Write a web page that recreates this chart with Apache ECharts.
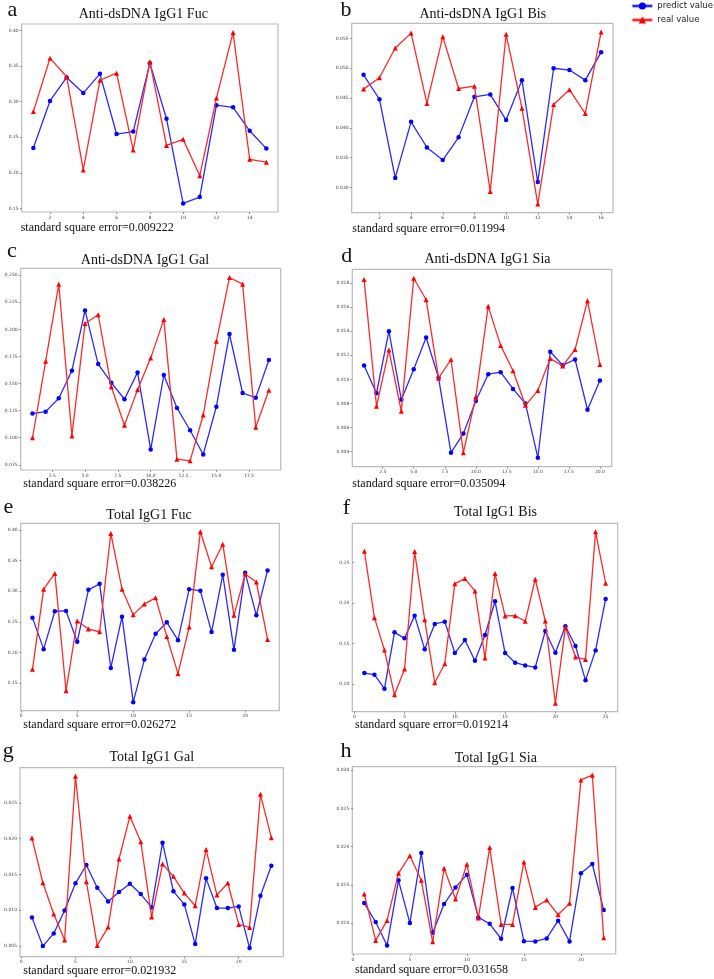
<!DOCTYPE html>
<html><head><meta charset="utf-8">
<script src="https://cdn.jsdelivr.net/npm/echarts@6/dist/echarts.min.js"></script>
<style>html,body{margin:0;padding:0;background:#fff}#c{width:714px;height:979px}</style>
</head><body><div id="c"></div>
<script>
// ---------- DATA ----------
const titles = ['Anti-dsDNA IgG1 Fuc','Anti-dsDNA IgG1 Bis','Anti-dsDNA IgG1 Gal','Anti-dsDNA IgG1 Sia',
                'Total IgG1 Fuc','Total IgG1 Bis','Total IgG1 Gal','Total IgG1 Sia'];
const letters = ['a','b','c','d','e','f','g','h'];
const errors = ['standard square error=0.009222','standard square error=0.011994','standard square error=0.038226',
                'standard square error=0.035094','standard square error=0.026272','standard square error=0.019214',
                'standard square error=0.021932','standard square error=0.031658'];
const seriesNames = ['predict value','real value'];

const predA = [0.235,0.301,0.334,0.312,0.339,0.2545,0.258,0.354,0.276,0.157,0.166,0.295,0.292,0.259,0.234];
const realA = [0.286,0.361,0.335,0.204,0.330,0.340,0.232,0.356,0.2385,0.247,0.196,0.305,0.397,0.219,0.215];

const predB = [0.0489,0.0448,0.0316,0.0410,0.0367,0.0346,0.0384,0.0452,0.0456,0.0413,0.0480,0.0309,0.0500,0.0497,0.0480,0.0527];
const realB = [0.0465,0.0484,0.0534,0.0559,0.0441,0.0553,0.0466,0.0470,0.0293,0.0557,0.0433,0.0272,0.0439,0.0464,0.0424,0.0561];

const predC = [0.1223,0.1241,0.1364,0.1619,0.2175,0.1680,0.1508,0.1355,0.1603,0.0891,0.1579,0.1275,0.1069,0.0845,0.1287,0.1957,0.1413,0.1370,0.1717];
const realC = [0.1000,0.1705,0.2417,0.1017,0.2055,0.2135,0.1471,0.1115,0.1444,0.1735,0.2092,0.0802,0.0787,0.1210,0.1890,0.2479,0.2417,0.1097,0.1438];

const predD = [0.01115,0.00885,0.01400,0.00832,0.01085,0.01348,0.01013,0.00392,0.00550,0.00821,0.01043,0.01060,0.00921,0.00799,0.00350,0.01229,0.01118,0.01165,0.00749,0.00990];
const realD = [0.01828,0.00777,0.01243,0.00735,0.01839,0.01661,0.01010,0.01165,0.00392,0.00855,0.01606,0.01282,0.01071,0.00785,0.00907,0.01173,0.01112,0.01248,0.01653,0.01124];

const predE = [0.2567,0.2053,0.2671,0.2676,0.2173,0.3021,0.3119,0.1746,0.2583,0.1188,0.1883,0.2304,0.2490,0.2200,0.3032,0.3004,0.2332,0.3267,0.2042,0.3300,0.2605,0.3338];
const realE = [0.1724,0.3032,0.3289,0.1374,0.2512,0.2381,0.2337,0.3940,0.3032,0.2616,0.2791,0.2890,0.2260,0.1653,0.2414,0.3967,0.3398,0.3765,0.2605,0.3278,0.3147,0.2211];

const predF = [0.1136,0.1116,0.0943,0.1639,0.1565,0.1845,0.1429,0.1742,0.1771,0.1383,0.1544,0.1289,0.1606,0.2022,0.1383,0.1264,0.1231,0.1206,0.1655,0.1388,0.1713,0.1470,0.1046,0.1416,0.2051];
const realF = [0.2640,0.1820,0.1420,0.0868,0.1186,0.2636,0.1795,0.1017,0.1252,0.2240,0.2302,0.2150,0.1322,0.2364,0.1841,0.1845,0.1775,0.2294,0.1779,0.0765,0.1701,0.1334,0.1305,0.2879,0.2245];

const predG = [0.00897,0.00495,0.00673,0.00995,0.01374,0.01631,0.01313,0.01121,0.01252,0.01369,0.01224,0.01037,0.01944,0.01262,0.01079,0.00523,0.01444,0.01028,0.01028,0.01051,0.00467,0.01201,0.01621];
const realG = [0.02009,0.01383,0.00944,0.00580,0.02874,0.01397,0.00505,0.00762,0.01715,0.02313,0.01958,0.00902,0.01645,0.01472,0.01238,0.01061,0.01850,0.01210,0.01379,0.00799,0.00757,0.02621,0.02014];

const predH = [0.01262,0.01013,0.00707,0.01559,0.01000,0.01917,0.00873,0.01249,0.01467,0.01633,0.01074,0.00991,0.00795,0.01459,0.00764,0.00760,0.00800,0.01031,0.00760,0.01651,0.01773,0.01170];
const realH = [0.01380,0.00773,0.01035,0.01651,0.01882,0.01559,0.00755,0.01716,0.01314,0.01769,0.01066,0.01987,0.00983,0.00983,0.01799,0.01205,0.01301,0.01109,0.01258,0.02873,0.02934,0.00808];

const xTicksA = [2,4,6,8,10,12,14];
const yTicksA = [0.15,0.20,0.25,0.30,0.35,0.40];
const xTicksB = [2,4,6,8,10,12,14,16];
const yTicksB = [0.030,0.035,0.040,0.045,0.050,0.055];
const xTicksC = [2.5,5.0,7.5,10.0,12.5,15.0,17.5];
const yTicksC = [0.075,0.100,0.125,0.150,0.175,0.200,0.225,0.250];
const xTicksD = [2.5,5.0,7.5,10.0,12.5,15.0,17.5,20.0];
const yTicksD = [0.004,0.006,0.008,0.010,0.012,0.014,0.016,0.018];
const xTicksE = [0,5,10,15,20];
const yTicksE = [0.15,0.20,0.25,0.30,0.35,0.40];
const xTicksF = [0,5,10,15,20,25];
const yTicksF = [0.10,0.15,0.20,0.25];
const xTicksG = [0,5,10,15,20];
const yTicksG = [0.005,0.010,0.015,0.020,0.025];
const xTicksH = [0,5,10,15,20];
const yTicksH = [0.010,0.015,0.020,0.025,0.030];

// ---------- LAYOUT ----------
const panels = [
  {pred:predA, real:realA, xt:xTicksA, yt:yTicksA, xd:0, yd:2, g:[21.7,24,256.3,188],   L:[12.5,9.8],  T:[143.3,14],   E:[20.7,227.6]},
  {pred:predB, real:realB, xt:xTicksB, yt:yTicksB, xd:0, yd:3, g:[351.7,23.3,261.3,189.4],L:[346,9.8], T:[482.8,14],   E:[352.3,229.2]},
  {pred:predC, real:realC, xt:xTicksC, yt:yTicksC, xd:1, yd:3, g:[20.7,268.3,260,201.7], L:[12,250.8],  T:[145,260],    E:[23.3,483.6]},
  {pred:predD, real:realD, xt:xTicksD, yt:yTicksD, xd:1, yd:3, g:[352.3,269.3,259.4,197.4],L:[346.7,256.5],T:[487.5,259.7],E:[352.3,483.6]},
  {pred:predE, real:realE, xt:xTicksE, yt:yTicksE, xd:0, yd:2, g:[20.7,523.3,258.6,187.4],L:[8.3,507.5], T:[149,515.2],  E:[23.3,725.2]},
  {pred:predF, real:realF, xt:xTicksF, yt:yTicksF, xd:0, yd:2, g:[352.3,523.3,265.4,188.4],L:[346.5,508.5],T:[495.5,511.9],E:[355,724.9]},
  {pred:predG, real:realG, xt:xTicksG, yt:yTicksG, xd:0, yd:3, g:[20,767.7,263.3,189],    L:[8.3,750.8], T:[151.8,757.2],E:[23.3,971.2]},
  {pred:predH, real:realH, xt:xTicksH, yt:yTicksH, xd:0, yd:3, g:[352.3,766.7,263.4,187.3],L:[346,750.8], T:[495.8,757.9],E:[355,970.2]}
];

const grids=[], xAxes=[], yAxes=[], series=[], graphics=[];
const tickLab = {fontSize:4.5, color:'#444', fontFamily:'DejaVu Sans'};
panels.forEach((p,i)=>{
  const n = p.pred.length;
  const all = p.pred.concat(p.real);
  const lo = Math.min(...all), hi = Math.max(...all), pad = 0.05*(hi-lo);
  const xmin = 1-0.05*(n-1), xmax = n+0.05*(n-1);
  const ymin = lo-pad, ymax = hi+pad;
  grids.push({left:p.g[0], top:p.g[1], width:p.g[2], height:p.g[3], show:true,
    borderColor:'#bcbcbc', borderWidth:1.2, backgroundColor:'#fff', containLabel:false, outerBoundsMode:'none'});
  const xt = p.xt.filter(v=>v>=xmin && v<=xmax);
  const yt = p.yt.filter(v=>v>=ymin && v<=ymax);
  xAxes.push({type:'value', gridIndex:i, min:xmin, max:xmax, position:'bottom',
    axisLine:{show:false}, splitLine:{show:false},
    axisTick:{show:true, customValues:xt, length:2, lineStyle:{color:'#555', width:0.6}},
    axisLabel:Object.assign({customValues:xt, margin:3, formatter:v=>Number(v).toFixed(p.xd)}, tickLab)});
  yAxes.push({type:'value', gridIndex:i, min:ymin, max:ymax, position:'left',
    axisLine:{show:false}, splitLine:{show:false},
    axisTick:{show:true, customValues:yt, length:2, lineStyle:{color:'#555', width:0.6}},
    axisLabel:Object.assign({customValues:yt, margin:3, formatter:v=>Number(v).toFixed(p.yd)}, tickLab)});
  series.push({type:'line', name:seriesNames[0], xAxisIndex:i, yAxisIndex:i,
    data:p.pred.map((v,k)=>[k+1,v]), symbol:'circle', symbolSize:4.5, showAllSymbol:true,
    lineStyle:{color:'#2a2aff', width:1.3}, itemStyle:{color:'#0000ff'}, z:2});
  series.push({type:'line', name:seriesNames[1], xAxisIndex:i, yAxisIndex:i,
    data:p.real.map((v,k)=>[k+1,v]), symbol:'triangle', symbolSize:5, showAllSymbol:true,
    lineStyle:{color:'#ff2a2a', width:1.3}, itemStyle:{color:'#ff0000'}, z:3});
  graphics.push({type:'text', x:p.L[0], y:p.L[1], style:{text:letters[i], font:'22px "Liberation Serif"', fill:'#111', align:'center', verticalAlign:'middle'}});
  graphics.push({type:'text', x:p.T[0], y:p.T[1], style:{text:titles[i], font:'14px "Liberation Serif"', fill:'#111', align:'center', verticalAlign:'middle'}});
  graphics.push({type:'text', x:p.E[0], y:p.E[1], style:{text:errors[i], font:'12px "Liberation Serif"', fill:'#111', align:'left', verticalAlign:'middle'}});
});

const chart = echarts.init(document.getElementById('c'), null, {renderer:'canvas'});
chart.setOption({
  animation:false,
  backgroundColor:'#fff',
  grid:grids, xAxis:xAxes, yAxis:yAxes, series:series,
  legend:{data:seriesNames, orient:'vertical', left:631, top:1.5, padding:0, itemWidth:20, itemHeight:9, itemGap:5,
    lineStyle:{width:2.7}, textStyle:{fontSize:8.5, fontFamily:'DejaVu Sans', color:'#222', padding:[0,0,0,0]}},
  graphic:graphics
});
</script></body></html>
